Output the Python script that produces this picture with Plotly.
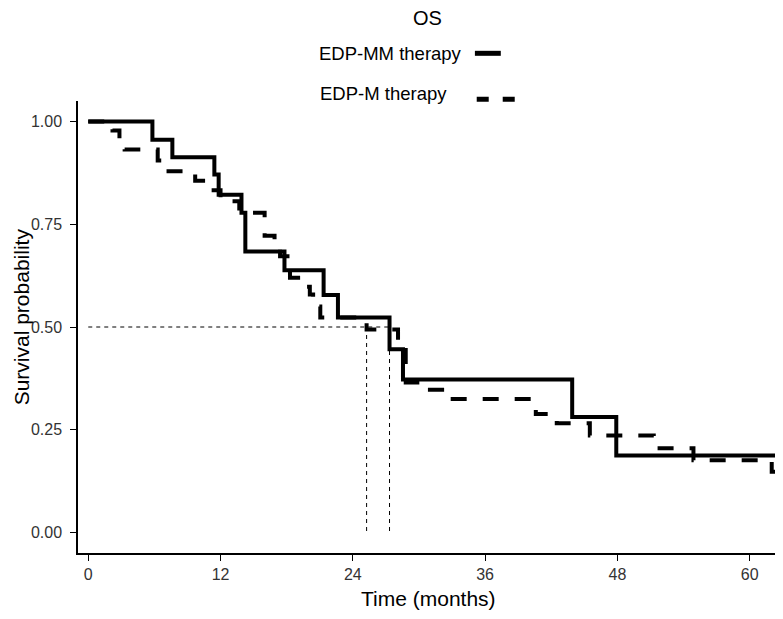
import plotly.graph_objects as go

# ---- data (Kaplan-Meier steps) ----
mm_time = [0, 5.82, 7.63, 11.44, 11.83, 13.9, 14.25, 17.8, 21.35, 22.65, 27.33, 28.55, 43.9, 47.9, 63]
mm_surv = [1.0, 0.956, 0.913, 0.871, 0.822, 0.778, 0.684, 0.638, 0.578, 0.523, 0.446, 0.372, 0.281, 0.187, 0.187]

m_time = [0, 2.2, 2.83, 3.3, 6.3, 6.75, 9.7, 10.77, 12.0, 13.7, 16.0, 16.9, 17.4, 18.3,
          19.3, 20.1, 20.4, 21.05, 25.25, 28.1, 28.8, 30.2, 32.1, 40.6, 42.5, 45.5,
          51.3, 54.9, 62.0, 63]
m_surv = [1.0, 0.978, 0.956, 0.932, 0.905, 0.879, 0.856, 0.833, 0.806, 0.778, 0.722, 0.702, 0.672, 0.62,
          0.598, 0.579, 0.55, 0.523, 0.494, 0.462, 0.365, 0.347, 0.3245, 0.288, 0.266, 0.236,
          0.205, 0.176, 0.148, 0.148]

median_mm = 27.33
median_m = 25.25
median_level = 0.5

x_ticks = [0, 12, 24, 36, 48, 60]
y_ticks = [0.0, 0.25, 0.5, 0.75, 1.0]
y_tick_labels = ["0.00", "0.25", "0.50", "0.75", "1.00"]

group_names = ["EDP-MM therapy", "EDP-M therapy"]
legend_title = "OS"
x_title = "Time (months)"
y_title = "Survival probability"

FONT = "Liberation Sans, Arial, sans-serif"

fig = go.Figure()

# median lines
med_max = max(median_mm, median_m)
fig.add_trace(go.Scatter(x=[0, med_max], y=[median_level, median_level], mode="lines",
                         line=dict(color="black", width=1, dash="4px,4px"),
                         hoverinfo="skip", showlegend=False))
for md in [median_m, median_mm]:
    fig.add_trace(go.Scatter(x=[md, md], y=[median_level, 0], mode="lines",
                             line=dict(color="black", width=1, dash="4px,4px"),
                             hoverinfo="skip", showlegend=False))

# survival curves
fig.add_trace(go.Scatter(x=m_time, y=m_surv, mode="lines", name=group_names[1],
                         line=dict(color="black", width=4, shape="hv", dash="16px,16px"),
                         showlegend=False))
fig.add_trace(go.Scatter(x=mm_time, y=mm_surv, mode="lines", name=group_names[0],
                         line=dict(color="black", width=4, shape="hv"),
                         showlegend=False))

# custom legend (text left, key right) in paper coordinates
fig.add_annotation(x=0.4986, y=1.1847, xref="paper", yref="paper", text=legend_title,
                   showarrow=False, font=dict(family=FONT, size=20, color="black"),
                   xanchor="center", yanchor="middle")
fig.add_annotation(x=0.341, y=1.104, xref="paper", yref="paper", text=group_names[0],
                   showarrow=False, font=dict(family=FONT, size=18.5, color="black"),
                   xanchor="left", yanchor="middle")
fig.add_annotation(x=0.3433, y=1.0155, xref="paper", yref="paper", text=group_names[1],
                   showarrow=False, font=dict(family=FONT, size=18.5, color="black"),
                   xanchor="left", yanchor="middle")
fig.add_shape(type="line", xref="paper", yref="paper", x0=0.567, x1=0.604, y0=1.1055, y1=1.1055,
              line=dict(color="black", width=5))
fig.add_shape(type="line", xref="paper", yref="paper", x0=0.5696, x1=0.630, y0=1.0038, y1=1.0038,
              line=dict(color="black", width=5, dash="12px,14px"))

# axis titles
fig.add_annotation(x=0.5, y=-0.0996, xref="paper", yref="paper", text=x_title,
                   showarrow=False, font=dict(family=FONT, size=21, color="black"),
                   xanchor="center", yanchor="middle")
fig.add_annotation(x=-0.081, y=0.522, xref="paper", yref="paper", text=y_title, textangle=-90,
                   showarrow=False, font=dict(family=FONT, size=21, color="black"),
                   xanchor="center", yanchor="middle", borderpad=0)

fig.update_layout(
    width=775, height=611,
    margin=dict(l=70, r=5, t=93, b=66, autoexpand=False),
    paper_bgcolor="white", plot_bgcolor="white",
    font=dict(family=FONT, color="black"),
    xaxis=dict(range=[-0.93, 62.57], tickvals=x_ticks, ticktext=[str(v) for v in x_ticks],
               showgrid=False, zeroline=False, showline=True, linecolor="black", linewidth=1.5,
               ticks="outside", ticklen=6, tickwidth=1.2, tickcolor="black", automargin=False,
               tickfont=dict(family=FONT, size=16, color="#333333")),
    yaxis=dict(range=[-0.05, 1.05], tickvals=y_ticks, ticktext=y_tick_labels,
               showgrid=False, zeroline=False, showline=True, linecolor="black", linewidth=1.5,
               ticks="outside", ticklen=6, tickwidth=1.2, tickcolor="black", automargin=False,
               ticklabelstandoff=5,
               tickfont=dict(family=FONT, size=16, color="#333333")),
)

fig.write_html("out.html")
